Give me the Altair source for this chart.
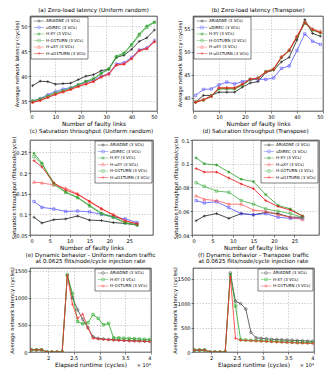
import altair as alt
import pandas as pd

FONT = "DejaVu Sans"

# ---------------- data ----------------
links_ab = [1, 4, 7, 10, 13, 16, 19, 22, 25, 28, 31, 34, 37, 40, 43, 46, 49]
a_ariadne = [38.1, 39.0, 38.9, 38.4, 38.5, 38.6, 39.3, 40.0, 40.3, 41.1, 41.4, 43.8, 44.2, 45.4, 47.0, 47.7, 49.3]
a_udirec = [35.0, 35.5, 36.3, 36.9, 37.4, 37.7, 38.2, 38.8, 39.2, 40.0, 40.5, 42.5, 42.7, 43.8, 45.3, 45.7, 47.2]
a_hxy = [35.0, 35.4, 36.0, 36.6, 37.1, 37.6, 38.3, 39.0, 39.5, 40.6, 41.5, 44.0, 44.7, 46.4, 48.5, 50.1, 50.9]
a_ho1turn = [35.0, 35.4, 36.0, 36.6, 37.0, 37.5, 38.2, 38.9, 39.4, 40.5, 41.4, 43.8, 44.5, 46.2, 48.2, 49.8, 50.8]
a_huxy = [34.8, 35.2, 35.8, 36.4, 36.9, 37.4, 38.0, 38.5, 39.0, 39.9, 40.5, 42.3, 42.5, 43.6, 45.2, 45.6, 47.0]
a_huo1turn = [34.7, 35.1, 35.7, 36.3, 36.8, 37.3, 37.9, 38.4, 38.9, 39.8, 40.4, 42.2, 42.4, 43.5, 45.1, 45.5, 46.9]

b_ariadne = [39.0, 40.5, 40.5, 41.2, 41.2, 41.2, 42.3, 43.2, 43.5, 45.5, 46.0, 47.8, 48.8, 52.6, 57.0, 54.0, 53.4]
b_udirec = [40.5, 41.8, 41.9, 42.8, 43.4, 43.0, 43.5, 43.9, 44.0, 44.0, 44.3, 46.4, 46.9, 50.3, 53.9, 52.3, 51.6]
b_hxy = [39.1, 39.5, 40.3, 41.9, 41.9, 41.9, 42.7, 43.9, 44.2, 45.6, 46.1, 48.7, 50.2, 53.2, 56.2, 54.7, 54.1]
b_ho1turn = [39.1, 39.5, 40.4, 42.0, 42.0, 42.0, 42.8, 44.0, 44.3, 45.7, 46.2, 48.8, 50.3, 53.3, 56.3, 54.8, 54.2]
b_huxy = [39.1, 39.6, 40.4, 42.2, 42.2, 42.2, 43.0, 44.1, 44.3, 45.7, 46.3, 48.9, 50.4, 53.4, 56.5, 55.0, 54.4]
b_huo1turn = [39.0, 39.5, 40.3, 42.1, 42.1, 42.1, 42.9, 44.0, 44.2, 45.6, 46.2, 48.8, 50.3, 53.3, 56.3, 54.8, 54.2]

links_cd = [1, 3, 6, 9, 12, 15, 18, 21, 24, 27]
c_ariadne = [0.093, 0.079, 0.087, 0.089, 0.096, 0.086, 0.085, 0.080, 0.078, 0.074]
c_udirec = [0.131, 0.117, 0.113, 0.107, 0.108, 0.106, 0.100, 0.094, 0.089, 0.080]
c_hxy = [0.248, 0.224, 0.176, 0.154, 0.141, 0.122, 0.103, 0.094, 0.080, 0.075]
c_huxy = [0.178, 0.176, 0.171, 0.163, 0.150, 0.130, 0.113, 0.100, 0.085, 0.077]
c_ho1turn = [0.240, 0.222, 0.172, 0.153, 0.140, 0.120, 0.101, 0.092, 0.079, 0.074]
c_huo1turn = [0.230, 0.215, 0.176, 0.159, 0.148, 0.132, 0.114, 0.098, 0.084, 0.077]

d_ariadne = [0.052, 0.056, 0.058, 0.054, 0.058, 0.057, 0.059, 0.058, 0.055, 0.055]
d_udirec = [0.069, 0.067, 0.068, 0.063, 0.058, 0.057, 0.058, 0.055, 0.054, 0.054]
d_hxy = [0.105, 0.100, 0.099, 0.093, 0.087, 0.085, 0.074, 0.065, 0.062, 0.056]
d_huxy = [0.073, 0.070, 0.069, 0.066, 0.066, 0.061, 0.060, 0.057, 0.055, 0.053]
d_ho1turn = [0.084, 0.081, 0.077, 0.076, 0.069, 0.066, 0.062, 0.060, 0.058, 0.055]
d_huo1turn = [0.096, 0.093, 0.093, 0.088, 0.083, 0.079, 0.069, 0.064, 0.061, 0.056]

runtime = [16750, 17750, 18750, 19750, 20750, 21750, 22750, 23750, 24750, 25750, 26750, 27750,
           28750, 29750, 30750, 31750, 32750, 33750, 34750, 35750, 36750, 37750, 38750, 39750]
e_ariadne = [40, 40, 40, 0, 0, 0, 0, 1420, 1000, 780, 600, 450, 280, 250, 240, 230, 225, 220, 215, 210, 210, 205, 200, 200]
e_hxy = [40, 40, 40, 0, 0, 0, 0, 1420, 1080, 560, 520, 540, 690, 620, 500, 530, 260, 260, 255, 250, 245, 240, 235, 230]
e_ho1turn = [40, 40, 40, 0, 0, 0, 0, 1410, 880, 620, 700, 440, 250, 240, 230, 225, 220, 215, 210, 205, 200, 200, 195, 190]

f_ariadne = [40, 40, 40, 0, 0, 0, 0, 1620, 1040, 990, 880, 400, 290, 280, 270, 260, 255, 250, 245, 240, 235, 230, 225, 220]
f_hxy = [40, 40, 40, 0, 0, 0, 0, 1580, 940, 250, 245, 240, 235, 230, 225, 220, 215, 210, 205, 200, 195, 195, 190, 190]
f_ho1turn = [40, 40, 40, 0, 0, 0, 0, 1540, 280, 240, 235, 230, 225, 220, 215, 210, 205, 200, 195, 190, 185, 180, 178, 175]

names6 = ["ARIADNE (3 VCs)", "uDIREC (3 VCs)", "H-XY (3 VCs)", "H-O1TURN (3 VCs)", "H-uXY (3 VCs)", "H-uO1TURN (3 VCs)"]
names6cd = ["ARIADNE (3 VCs)", "uDIREC (3 VCs)", "H-XY (3 VCs)", "H-uXY (3 VCs)", "H-O1TURN (3 VCs)", "H-uO1TURN (3 VCs)"]
names3 = ["ARIADNE (3 VCs)", "H-XY (3 VCs)", "H-O1TURN (3 VCs)"]

COL = {"ARIADNE (3 VCs)": "#1a1a1a", "uDIREC (3 VCs)": "#5555ff", "H-XY (3 VCs)": "#2c9e2c",
       "H-O1TURN (3 VCs)": "#44b044", "H-uXY (3 VCs)": "#ff5a5a", "H-uO1TURN (3 VCs)": "#e61010"}
COL3 = {"ARIADNE (3 VCs)": "#444444", "H-XY (3 VCs)": "#22aa22", "H-O1TURN (3 VCs)": "#ff3030"}

# marker paths (unit square) and legend paths (line + marker)
MK = {
    "plus": "M-1,0H1M0,-1V1",
    "circle": "M-0.9,0A0.9,0.9,0,1,1,0.9,0A0.9,0.9,0,1,1,-0.9,0Z",
    "square": "M-0.8,-0.8H0.8V0.8H-0.8Z",
    "tri": "M0,-1L0.95,0.75H-0.95Z",
    "star": "M-1,0H1M0,-1V1M-0.7,-0.7L0.7,0.7M-0.7,0.7L0.7,-0.7",
    "dot": "M-0.5,0A0.5,0.5,0,1,1,0.5,0A0.5,0.5,0,1,1,-0.5,0Z",
}
LINE = "M-3.2,0H3.2"


def leg_path(k):
    return LINE + MK[k]


def long_df(x, series):
    rows = []
    for name, vals in series:
        for xi, v in zip(x, vals):
            rows.append({"x": xi, "y": v, "series": name})
    return pd.DataFrame(rows)


def panel(df, names, colors, markers, title, xtitle, ytitle, xdom, ydom, xvals, yvals,
          w, h, orient, yext, yfmt=None, xlabelexpr=None, extra=None, legend_offset=1):
    legend = alt.Legend(title=None, orient=orient, offset=legend_offset, padding=2,
                        fillColor="white", strokeColor="black",
                        cornerRadius=0, labelFont=FONT, labelFontSize=4, labelColor="black",
                        symbolSize=11, symbolStrokeWidth=0.6, rowPadding=0.5,
                        labelOffset=5, labelLimit=100, symbolOffset=4)
    cscale = alt.Scale(domain=names, range=colors)
    xaxis = alt.Axis(values=xvals, title=xtitle, grid=True, titleFontSize=5.8,
                     **({"labelExpr": xlabelexpr} if xlabelexpr else {}))
    yaxis = alt.Axis(values=yvals, title=ytitle, grid=True, titleFontSize=5.2,
                     minExtent=yext, maxExtent=yext,
                     **({"format": yfmt} if yfmt else {}))
    X = alt.X("x:Q", scale=alt.Scale(domain=xdom, nice=False, zero=False), axis=xaxis)
    Y = alt.Y("y:Q", scale=alt.Scale(domain=ydom, nice=False, zero=False), axis=yaxis)
    base = alt.Chart(df)
    line = base.mark_line(strokeWidth=0.8, clip=True).encode(
        X, Y, color=alt.Color("series:N", scale=cscale, legend=None))
    pts = base.mark_point(filled=False, size=9, strokeWidth=0.6, opacity=1, clip=True).encode(
        X, Y, color=alt.Color("series:N", scale=cscale, legend=None),
        shape=alt.Shape("series:N", scale=alt.Scale(domain=names, range=[MK[m] for m in markers]), legend=None))
    leg = base.transform_filter("false").mark_point(filled=False, strokeWidth=0.6).encode(
        X, Y, color=alt.Color("series:N", scale=cscale, legend=legend),
        shape=alt.Shape("series:N", scale=alt.Scale(domain=names, range=[leg_path(m) for m in markers]), legend=legend))
    layers = [line, pts, leg]
    if extra is not None:
        layers.append(extra)
    return alt.layer(*layers).resolve_scale(
        color="independent", shape="independent").resolve_legend(
        color="independent", shape="independent").properties(
        width=w, height=h,
        title=alt.TitleParams(title, fontSize=5.6, font=FONT, fontWeight="normal",
                              color="black", offset=2, frame="group", lineHeight=6.5))


def x10(w, h):
    return alt.Chart(pd.DataFrame({"t": ["× 10⁴"]})).mark_text(
        align="right", baseline="top", fontSize=5, font=FONT, color="black").encode(
        text="t:N", x=alt.value(w), y=alt.value(h + 11))


# ---- panels ----
df_a = long_df(links_ab, zip(names6, [a_ariadne, a_udirec, a_hxy, a_ho1turn, a_huxy, a_huo1turn]))
df_b = long_df(links_ab, zip(names6, [b_ariadne, b_udirec, b_hxy, b_ho1turn, b_huxy, b_huo1turn]))
df_c = long_df(links_cd, zip(names6cd, [c_ariadne, c_udirec, c_hxy, c_huxy, c_ho1turn, c_huo1turn]))
df_d = long_df(links_cd, zip(names6cd, [d_ariadne, d_udirec, d_hxy, d_huxy, d_ho1turn, d_huo1turn]))
df_e = long_df(runtime, zip(names3, [e_ariadne, e_hxy, e_ho1turn]))
df_f = long_df(runtime, zip(names3, [f_ariadne, f_hxy, f_ho1turn]))

mk6 = ["plus", "circle", "star", "square", "tri", "plus"]
mk6b = ["plus", "square", "star", "square", "tri", "plus"]
mk6cd = ["plus", "square", "star", "tri", "square", "plus"]
mk3 = ["circle", "square", "plus"]

YLAT = "Average network latency (cycles)"
YSAT = "Saturation throughput (flits/node/cycle)"
XFL = "Number of faulty links"
XRT = "Elapsed runtime (cycles)"

W1L, W1R, H1 = 127, 130, 95
W2L, W2R, H2 = 123, 127, 95
W3L, W3R, H3 = 121, 121, 84

pa = panel(df_a, names6, [COL[n] for n in names6], mk6, "(a) Zero-load latency (Uniform random)",
           XFL, YLAT, [0, 50], [33, 52.1], [0, 10, 20, 30, 40, 50], [35, 40, 45, 50],
           W1L, H1, "top-left", 10)
pb = panel(df_b, names6, [COL[n] for n in names6], mk6b, "(b) Zero-load latency (Transpose)",
           XFL, YLAT, [0, 50], [37.1, 57.8], [0, 10, 20, 30, 40, 50], [40, 45, 50, 55],
           W1R, H1, "top-left", 10)
pc = panel(df_c, names6cd, [COL[n] for n in names6cd], mk6cd, "(c) Saturation throughput (Uniform random)",
           XFL, YSAT, [0, 31], [0.05, 0.28], [0, 5, 10, 15, 20, 25], [0.05, 0.1, 0.15, 0.2, 0.25],
           W2L, H2, "top-right", 13, yfmt="~g")
pd_ = panel(df_d, names6cd, [COL[n] for n in names6cd], mk6cd, "(d) Saturation throughput (Transpose)",
            XFL, YSAT, [0, 31], [0.04, 0.12], [0, 5, 10, 15, 20, 25], [0.04, 0.06, 0.08, 0.1, 0.12],
            W2R, H2, "top-right", 13, yfmt="~g")
pe = panel(df_e, names3, [COL3[n] for n in names3], mk3,
           ["(e) Dynamic behavior - Uniform random traffic", "at 0.0625 flits/node/cycle injection rate"],
           XRT, YLAT, [16500, 40000], [0, 1550], [20000, 25000, 30000, 35000, 40000], [0, 500, 1000, 1500],
           W3L, H3, "top-right", 15, yfmt="d", xlabelexpr="datum.value/10000", extra=x10(W3L, H3))
pf = panel(df_f, names3, [COL3[n] for n in names3], mk3,
           ["(f) Dynamic behavior - Transpose traffic", "at 0.0625 flits/node/cycle injection rate"],
           XRT, YLAT, [16500, 40000], [0, 1720], [20000, 25000, 30000, 35000, 40000], [0, 500, 1000, 1500],
           W3R, H3, "top-right", 15, yfmt="d", xlabelexpr="datum.value/10000", extra=x10(W3R, H3))

row1 = alt.hconcat(pa, pb, spacing=36, bounds="flush").resolve_scale(color="independent", shape="independent")
row2 = alt.hconcat(pc, pd_, spacing=39, bounds="flush").resolve_scale(color="independent", shape="independent")
row3 = alt.hconcat(pe, pf, spacing=42, bounds="flush").resolve_scale(color="independent", shape="independent")

chart = alt.vconcat(row1, row2, row3, spacing=1, bounds="full").resolve_scale(
    color="independent", shape="independent").properties(
    padding={"left": 0, "top": 0, "right": 0, "bottom": 0}
).configure_view(stroke="black", strokeWidth=0.7).configure_axis(
    labelFont=FONT, titleFont=FONT, labelFontSize=5, labelColor="black", titleColor="black",
    titleFontWeight="normal", tickColor="black", tickSize=2, tickWidth=0.5, domain=False,
    gridColor="#999999", gridDash=[1.5, 1.5], gridWidth=0.45, labelPadding=1, titlePadding=1
).configure_title(font=FONT, fontWeight="normal").configure_legend(strokeWidth=0.5)

chart.save("out.html", embed_options={"renderer": "svg", "actions": False})
